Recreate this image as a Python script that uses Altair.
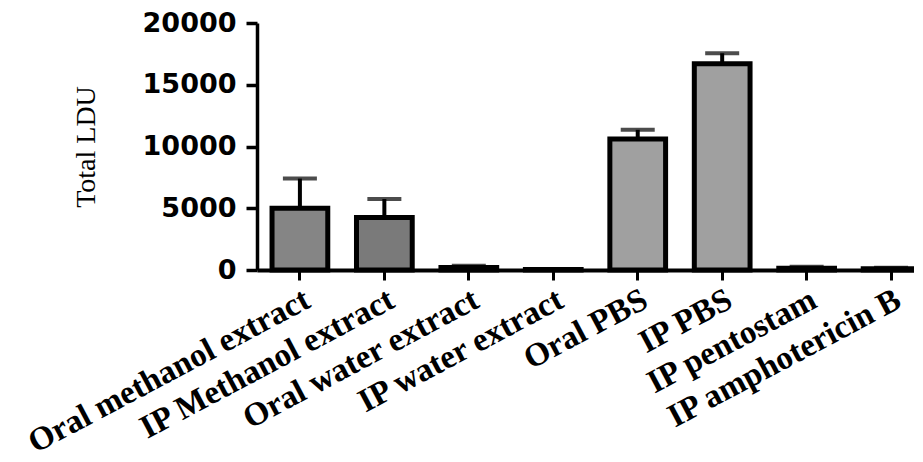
import altair as alt
import pandas as pd

groups = ["Oral methanol extract", "IP Methanol extract", "Oral water extract",
          "IP water extract", "Oral PBS", "IP PBS", "IP pentostam", "IP amphotericin B"]
means = [5000, 4250, 200, 50, 10600, 16700, 150, 100]
errors = [2400, 1500, 150, 40, 750, 850, 120, 80]
fills = ["#858585", "#7a7a7a", "#9c9c9c", "#9c9c9c", "#a0a0a0", "#a0a0a0", "#9c9c9c", "#9c9c9c"]
y_ticks = [0, 5000, 10000, 15000, 20000]

df = pd.DataFrame({"group": groups, "mean": means, "err": errors})
df["top"] = df["mean"] + df["err"]

x_enc = alt.X(
    "group:N", sort=groups,
    scale=alt.Scale(range=[0, 677], paddingInner=0.34, paddingOuter=0.178),
    axis=alt.Axis(title=None, labelAngle=-28, labelAlign="right", labelBaseline="top",
                  labelFont="Liberation Serif", labelFontWeight="bold", labelFontSize=33,
                  labelColor="black", labelPadding=3, labelLimit=600,
                  tickSize=10, tickWidth=3, tickColor="black",
                  domainWidth=4, domainColor="black", grid=False),
)
y_enc = alt.Y(
    "mean:Q",
    scale=alt.Scale(domain=[0, 20000], nice=False),
    axis=alt.Axis(title="Total LDU", values=y_ticks, format="d", grid=False,
                  labelFont="DejaVu Sans", labelFontWeight="bold", labelFontSize=27,
                  labelColor="black", labelPadding=10,
                  tickSize=11, tickWidth=3.5, tickColor="black",
                  domainWidth=3.5, domainColor="black",
                  titleFont="Liberation Serif", titleFontWeight="normal", titleFontSize=28,
                  titleColor="black", titleAngle=270, titleAlign="center",
                  titleBaseline="alphabetic", titleX=-163, titleY=123.5),
)

bars = alt.Chart(df).mark_bar(stroke="black", strokeWidth=5).encode(
    x=x_enc, y=y_enc,
    fill=alt.Fill("group:N", scale=alt.Scale(domain=groups, range=fills), legend=None),
)
stems = alt.Chart(df).mark_rule(color="black", strokeWidth=4).encode(
    x=alt.X("group:N", sort=groups), y="mean:Q", y2="top:Q")
caps = alt.Chart(df).mark_tick(color="black", thickness=4, size=34).encode(
    x=alt.X("group:N", sort=groups), y="top:Q")

chart = alt.layer(stems, caps, bars).properties(
    width=657, height=247,
    autosize=alt.AutoSizeParams(type="none"),
    padding={"left": 249, "top": 15, "right": 0, "bottom": 191},
).configure_view(stroke=None)

chart.save("out.html", embed_options={"renderer": "svg", "actions": False})
